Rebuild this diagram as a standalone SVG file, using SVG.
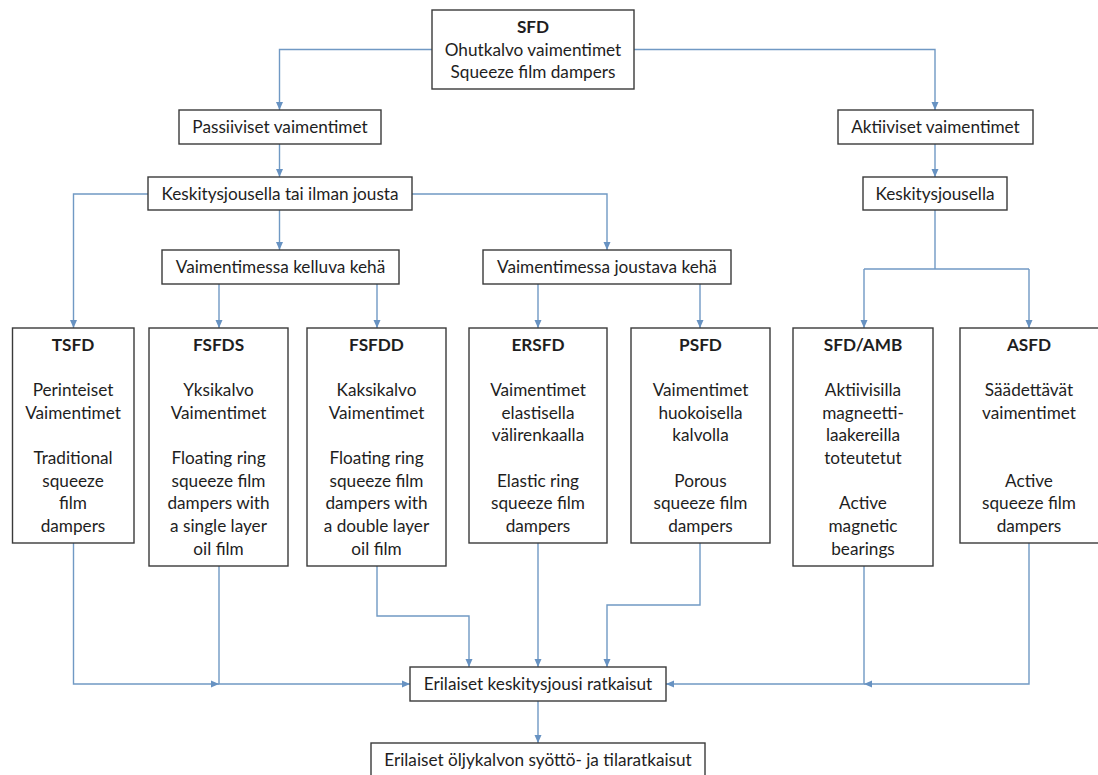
<svg xmlns="http://www.w3.org/2000/svg" width="1098" height="775" viewBox="0 0 1098 775">
<style>
.box{fill:#fff;stroke:#3a3a3a;stroke-width:1.4}
.t{font-family:Lato,"Liberation Sans",sans-serif;font-size:17.2px;fill:#1e1e1e;text-anchor:middle}
.b{font-weight:bold}
.c{fill:none;stroke:#7099c4;stroke-width:1.4}
</style>
<defs>
<marker id="ah" markerUnits="userSpaceOnUse" markerWidth="9" markerHeight="9" refX="8" refY="4" orient="auto">
<path d="M0,0.5 L8,4 L0,7.5 z" fill="#6792c2"/>
</marker>
</defs>
<rect width="1098" height="775" fill="#fff"/>
<g id="connectors">
<path class="c" d="M432,49.5 H279.5 V110" marker-end="url(#ah)"/>
<path class="c" d="M634,49.5 H935 V110" marker-end="url(#ah)"/>
<path class="c" d="M279.5,144 V177" marker-end="url(#ah)"/>
<path class="c" d="M935,144 V177" marker-end="url(#ah)"/>
<path class="c" d="M279.5,210 V250" marker-end="url(#ah)"/>
<path class="c" d="M148,194 H73.5 V328" marker-end="url(#ah)"/>
<path class="c" d="M412,194 H607 V250" marker-end="url(#ah)"/>
<path class="c" d="M935,210 V269"/>
<path class="c" d="M864,269 H1029 "/>
<path class="c" d="M864,269 V328" marker-end="url(#ah)"/>
<path class="c" d="M1029,269 V328" marker-end="url(#ah)"/>
<path class="c" d="M219,284 V328" marker-end="url(#ah)"/>
<path class="c" d="M377,284 V328" marker-end="url(#ah)"/>
<path class="c" d="M538,284 V328" marker-end="url(#ah)"/>
<path class="c" d="M700,284 V328" marker-end="url(#ah)"/>
<path class="c" d="M73.5,543 V684 H219" marker-end="url(#ah)"/>
<path class="c" d="M219,566 V684 H410" marker-end="url(#ah)"/>
<path class="c" d="M377,566 V616 H469 V667" marker-end="url(#ah)"/>
<path class="c" d="M538,543 V667" marker-end="url(#ah)"/>
<path class="c" d="M700,543 V605 H607 V667" marker-end="url(#ah)"/>
<path class="c" d="M864,566 V684 H666" marker-end="url(#ah)"/>
<path class="c" d="M1029,543 V684 H864" marker-end="url(#ah)"/>
<path class="c" d="M538,701 V743" marker-end="url(#ah)"/>
</g>
<g id="sfd">
<rect class="box" x="432" y="10" width="202" height="79"/>
<text class="t b" x="533" y="33">SFD</text>
<text class="t" x="533" y="55.5">Ohutkalvo vaimentimet</text>
<text class="t" x="533" y="77.5">Squeeze film dampers</text>
</g>
<g id="passiiviset">
<rect class="box" x="179" y="110" width="202" height="34"/>
<text class="t" x="280" y="133">Passiiviset vaimentimet</text>
</g>
<g id="aktiiviset">
<rect class="box" x="838" y="110" width="195" height="34"/>
<text class="t" x="935.5" y="133">Aktiiviset vaimentimet</text>
</g>
<g id="keskitys-tai-ilman">
<rect class="box" x="148" y="177" width="264" height="33"/>
<text class="t" x="280" y="200">Keskitysjousella tai ilman jousta</text>
</g>
<g id="keskitysjousella">
<rect class="box" x="863" y="177" width="144" height="33"/>
<text class="t" x="935" y="200">Keskitysjousella</text>
</g>
<g id="kelluva">
<rect class="box" x="162" y="250" width="237" height="34"/>
<text class="t" x="280.5" y="273">Vaimentimessa kelluva kehä</text>
</g>
<g id="joustava">
<rect class="box" x="483" y="250" width="248" height="34"/>
<text class="t" x="607" y="273">Vaimentimessa joustava kehä</text>
</g>
<g id="tsfd">
<rect class="box" x="12.5" y="328" width="121.5" height="215"/>
<text class="t b" x="73" y="351">TSFD</text>
<text class="t" x="73" y="396">Perinteiset</text>
<text class="t" x="73" y="418.7">Vaimentimet</text>
<text class="t" x="73" y="464">Traditional</text>
<text class="t" x="73" y="486.7">squeeze</text>
<text class="t" x="73" y="509.3">film</text>
<text class="t" x="73" y="532">dampers</text>
</g>
<g id="fsfds">
<rect class="box" x="149" y="328" width="139" height="238"/>
<text class="t b" x="218.5" y="351">FSFDS</text>
<text class="t" x="218.5" y="396">Yksikalvo</text>
<text class="t" x="218.5" y="418.7">Vaimentimet</text>
<text class="t" x="218.5" y="464">Floating ring</text>
<text class="t" x="218.5" y="486.7">squeeze film</text>
<text class="t" x="218.5" y="509.3">dampers with</text>
<text class="t" x="218.5" y="532">a single layer</text>
<text class="t" x="218.5" y="554.7">oil film</text>
</g>
<g id="fsfdd">
<rect class="box" x="307" y="328" width="139" height="238"/>
<text class="t b" x="376.5" y="351">FSFDD</text>
<text class="t" x="376.5" y="396">Kaksikalvo</text>
<text class="t" x="376.5" y="418.7">Vaimentimet</text>
<text class="t" x="376.5" y="464">Floating ring</text>
<text class="t" x="376.5" y="486.7">squeeze film</text>
<text class="t" x="376.5" y="509.3">dampers with</text>
<text class="t" x="376.5" y="532">a double layer</text>
<text class="t" x="376.5" y="554.7">oil film</text>
</g>
<g id="ersfd">
<rect class="box" x="469" y="328" width="138" height="215"/>
<text class="t b" x="538" y="351">ERSFD</text>
<text class="t" x="538" y="396">Vaimentimet</text>
<text class="t" x="538" y="418.7">elastisella</text>
<text class="t" x="538" y="441.3">välirenkaalla</text>
<text class="t" x="538" y="486.7">Elastic ring</text>
<text class="t" x="538" y="509.3">squeeze film</text>
<text class="t" x="538" y="532">dampers</text>
</g>
<g id="psfd">
<rect class="box" x="631" y="328" width="139" height="215"/>
<text class="t b" x="700.5" y="351">PSFD</text>
<text class="t" x="700.5" y="396">Vaimentimet</text>
<text class="t" x="700.5" y="418.7">huokoisella</text>
<text class="t" x="700.5" y="441.3">kalvolla</text>
<text class="t" x="700.5" y="486.7">Porous</text>
<text class="t" x="700.5" y="509.3">squeeze film</text>
<text class="t" x="700.5" y="532">dampers</text>
</g>
<g id="sfd-amb">
<rect class="box" x="793" y="328" width="140" height="238"/>
<text class="t b" x="863" y="351">SFD/AMB</text>
<text class="t" x="863" y="396">Aktiivisilla</text>
<text class="t" x="863" y="418.7">magneetti-</text>
<text class="t" x="863" y="441.3">laakereilla</text>
<text class="t" x="863" y="464">toteutetut</text>
<text class="t" x="863" y="509.3">Active</text>
<text class="t" x="863" y="532">magnetic</text>
<text class="t" x="863" y="554.7">bearings</text>
</g>
<g id="asfd">
<rect class="box" x="960" y="328" width="141" height="215"/>
<text class="t b" x="1029" y="351">ASFD</text>
<text class="t" x="1029" y="396">Säädettävät</text>
<text class="t" x="1029" y="418.7">vaimentimet</text>
<text class="t" x="1029" y="486.7">Active</text>
<text class="t" x="1029" y="509.3">squeeze film</text>
<text class="t" x="1029" y="532">dampers</text>
</g>
<g id="erilaiset-keskitysjousi">
<rect class="box" x="410" y="667" width="256" height="34"/>
<text class="t" x="538" y="690">Erilaiset keskitysjousi ratkaisut</text>
</g>
<g id="erilaiset-oljykalvon">
<rect class="box" x="371" y="743" width="334" height="40"/>
<text class="t" x="538" y="766">Erilaiset öljykalvon syöttö- ja tilaratkaisut</text>
</g>
</svg>
